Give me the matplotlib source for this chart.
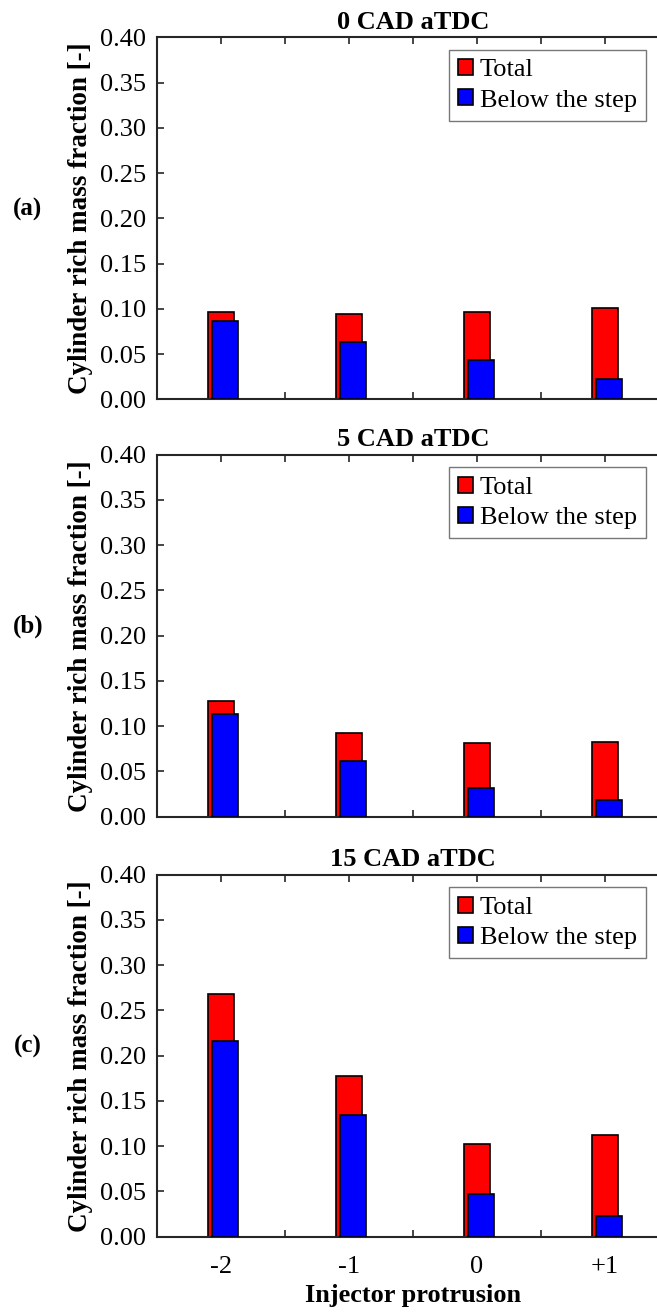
import numpy as np
import matplotlib
matplotlib.use("Agg")
import matplotlib.pyplot as plt
from matplotlib.ticker import FixedLocator, FixedFormatter

# Injector protrusion cases
protrusion = [-2, -1, 0, 1]
protrusion_labels = ["-2", "-1", "0", "+1"]

# Cylinder rich mass fraction at each crank angle
total_0cad = [0.096, 0.094, 0.097, 0.101]
below_0cad = [0.087, 0.063, 0.043, 0.022]

total_5cad = [0.128, 0.093, 0.081, 0.082]
below_5cad = [0.113, 0.062, 0.032, 0.019]

total_15cad = [0.268, 0.178, 0.102, 0.112]
below_15cad = [0.216, 0.135, 0.047, 0.023]

titles = ["0 CAD aTDC", "5 CAD aTDC", "15 CAD aTDC"]
panel_tags = ["(a)", "(b)", "(c)"]
totals = [total_0cad, total_5cad, total_15cad]
belows = [below_0cad, below_5cad, below_15cad]

plt.rcParams["font.family"] = ["Liberation Serif", "DejaVu Serif"]
plt.rcParams["mathtext.fontset"] = "stix"

W, H = 657, 1314
fig = plt.figure(figsize=(W / 100, H / 100), dpi=100)

ax_left = 157 / W
ax_width = 512 / W
ax_height = 362 / H
bottoms = [1 - 399.3 / H, 1 - 816.7 / H, 1 - 1236.7 / H]

spine_col = "#262626"
bar_w = 0.2
offset = 0.03
fs = 19

for i in range(3):
    ax = fig.add_axes([ax_left, bottoms[i], ax_width, ax_height])
    x = np.array(protrusion, dtype=float)
    ax.bar(x, totals[i], width=bar_w, color="#ff0000", edgecolor="black",
           linewidth=1.2, label="Total", zorder=2)
    ax.bar(x + offset, belows[i], width=bar_w, color="#0000ff", edgecolor="black",
           linewidth=1.2, label="Below the step", zorder=3)

    ax.set_xlim(-2.5, 1.5)
    ax.set_ylim(0, 0.40)
    ax.set_yticks(np.arange(0, 0.401, 0.05))
    ax.set_yticklabels([f"{v:.2f}" for v in np.arange(0, 0.401, 0.05)])

    ax.xaxis.set_major_locator(FixedLocator(protrusion))
    ax.xaxis.set_minor_locator(FixedLocator([-2.5, -1.5, -0.5, 0.5, 1.5]))
    if i == 2:
        ax.xaxis.set_major_formatter(FixedFormatter(protrusion_labels))
        ax.set_xlabel("Injector protrusion", fontsize=fs, fontweight="bold",
                      labelpad=4)
    else:
        ax.set_xticklabels([])

    ax.tick_params(axis="both", which="both", direction="in", length=5,
                   width=1.2, color=spine_col, top=True, right=False,
                   labelsize=fs, pad=8)
    ax.tick_params(axis="x", which="both", pad=14)

    for side in ["left", "bottom", "top"]:
        ax.spines[side].set_color(spine_col)
        ax.spines[side].set_linewidth(1.5)
    ax.spines["right"].set_visible(False)

    ax.set_title(titles[i], fontsize=fs, fontweight="bold", pad=6)
    ax.set_ylabel("Cylinder rich mass fraction [-]", fontsize=fs + 0.5,
                  fontweight="bold", labelpad=5)

    leg = ax.legend(loc="upper right", bbox_to_anchor=(0.955, 0.965),
                    borderaxespad=0, fontsize=fs, frameon=True, fancybox=False,
                    handlelength=0.55, handleheight=0.55, handletextpad=0.25,
                    borderpad=0.35, labelspacing=0.3)
    leg.get_frame().set_edgecolor("#555555")
    leg.get_frame().set_linewidth(1.0)

    fig.text(28 / W, bottoms[i] + ax_height * (1 - (209 - 37.3) / 362),
             panel_tags[i], fontsize=fs - 1, fontweight="bold",
             ha="center", va="center")

fig.savefig("out.png", dpi=100)
